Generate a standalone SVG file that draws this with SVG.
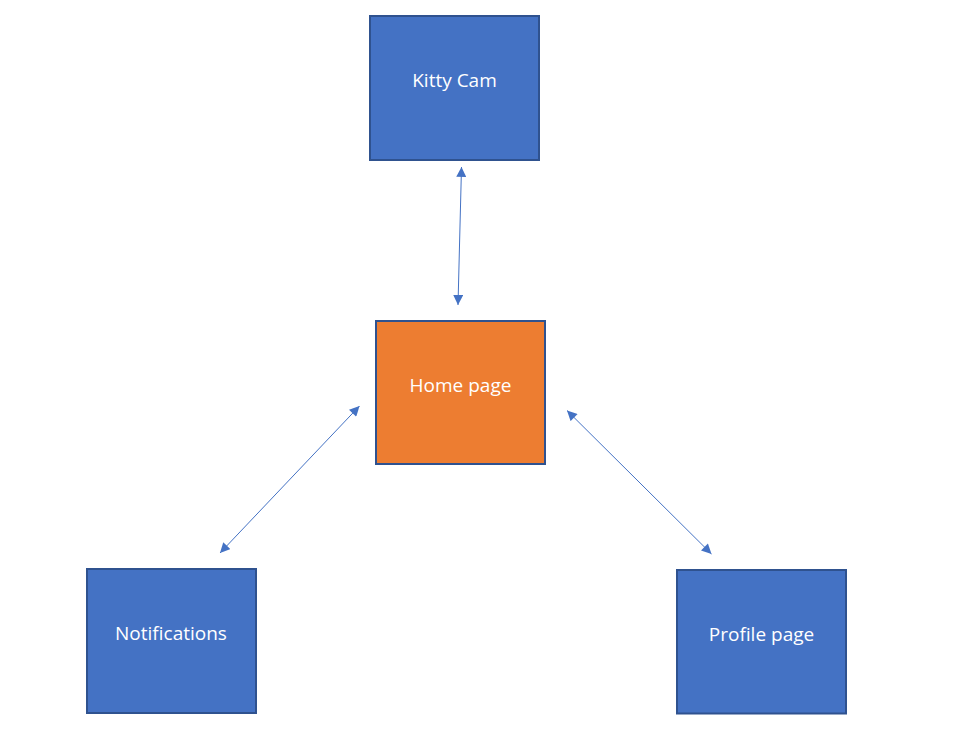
<svg xmlns="http://www.w3.org/2000/svg" width="953" height="729" viewBox="0 0 953 729">
<defs>
<style>
.node{stroke:#2F528F;stroke-width:2}
.blue{fill:#4472C4}
.orange{fill:#ED7D31}
.lbl{fill:#FFFFFF;font-family:"Open Sans","Liberation Sans",sans-serif;font-size:19px;text-anchor:middle}
.conn{stroke:#4472C4;stroke-width:1;fill:none;marker-start:url(#ah);marker-end:url(#ah)}
</style>
<marker id="ah" viewBox="0 0 10 10" refX="10" refY="5" markerWidth="11" markerHeight="10" markerUnits="userSpaceOnUse" orient="auto-start-reverse">
<path d="M0,0 L10,5 L0,10 Z" fill="#4472C4"/>
</marker>
</defs>
<rect width="953" height="729" fill="#FFFFFF"/>
<g id="connectors">
<line class="conn" x1="461.5" y1="167" x2="458" y2="305"/>
<line class="conn" x1="359.5" y1="406" x2="220" y2="553"/>
<line class="conn" x1="567" y1="410.5" x2="711.5" y2="554"/>
</g>
<g id="kitty-cam">
<rect class="node blue" x="370" y="16" width="169" height="144"/>
<text class="lbl" x="454.5" y="86.5">Kitty Cam</text>
</g>
<g id="home-page">
<rect class="node orange" x="376" y="321" width="169" height="143"/>
<text class="lbl" x="460.5" y="391.5">Home page</text>
</g>
<g id="notifications">
<rect class="node blue" x="87" y="569" width="169" height="144"/>
<text class="lbl" x="171" y="639.5">Notifications</text>
</g>
<g id="profile-page">
<rect class="node blue" x="677" y="570" width="169" height="143.5"/>
<text class="lbl" x="761.5" y="641">Profile page</text>
</g>
</svg>
